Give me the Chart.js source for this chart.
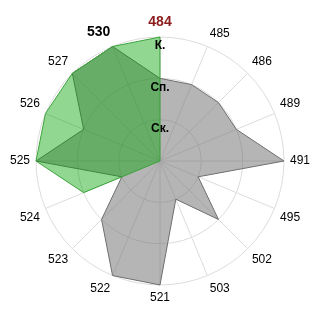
<!DOCTYPE html>
<html>
<head>
<meta charset="utf-8">
<script src="https://cdn.jsdelivr.net/npm/chart.js@4.4.0/dist/chart.umd.min.js"></script>
<style>
  html, body { margin: 0; padding: 0; background: #fff; }
  #wrap { width: 320px; height: 320px; }
</style>
</head>
<body>
<div id="wrap"><canvas id="chart" width="320" height="320"></canvas></div>
<script>
'use strict';

// categories around the radar, clockwise from the top
var categories = ['484', '485', '486', '489', '491', '495', '502', '503',
                  '521', '522', '523', '524', '525', '526', '527', '530'];

// level per category (1 = Ск., 2 = Сп., 3 = К.)
var greyValues  = [2, 2, 2, 2, 3, 1, 2, 1, 3, 3, 2, 1, 3, 2, 3, 3];
var greenValues = [3, 0, 0, 0, 0, 0, 0, 0, 0, 0, 0, 2, 3, 3, 3, 3];

// radial tick labels
var tickLabels = ['', 'Ск.', 'Сп.', 'К.'];

var FONT = '"Liberation Sans", Arial, sans-serif';

new Chart(document.getElementById('chart'), {
    type: 'radar',
    data: {
        labels: categories,
        datasets: [{
            data: greyValues,
            order: 2,
            backgroundColor: 'rgba(120,120,120,0.55)',
            borderColor: '#6e6e6e',
            borderWidth: 1,
            pointRadius: 0,
            fill: true
        }, {
            data: greenValues,
            order: 1,
            backgroundColor: 'rgba(0,160,0,0.43)',
            borderColor: 'rgb(60,165,60)',
            borderWidth: 1,
            pointRadius: 0,
            fill: true
        }]
    },
    options: {
        responsive: false,
        animation: false,
        layout: { padding: 10 },
        plugins: {
            legend: { display: false },
            tooltip: { enabled: false }
        },
        scales: {
            r: {
                min: 0,
                max: 3,
                startAngle: 0,
                grid: { circular: true, color: '#dcdcdc', lineWidth: 1 },
                angleLines: { color: '#dcdcdc', lineWidth: 1 },
                ticks: {
                    stepSize: 1,
                    z: 1,
                    showLabelBackdrop: false,
                    color: '#000',
                    font: { family: FONT, size: 12, weight: 'bold', lineHeight: 0.75 },
                    callback: function(value) {
                        var t = tickLabels[value];
                        return t ? ['', t] : '';
                    }
                },
                pointLabels: {
                    padding: -2,
                    color: function(ctx) {
                        return ctx.index === 0 ? '#8b1a1a' : '#000';
                    },
                    font: function(ctx) {
                        if (ctx.index === 0 || ctx.index === 15) {
                            return { family: FONT, size: 14, weight: 'bold' };
                        }
                        return { family: FONT, size: 12 };
                    }
                }
            }
        }
    }
});
</script>
</body>
</html>
